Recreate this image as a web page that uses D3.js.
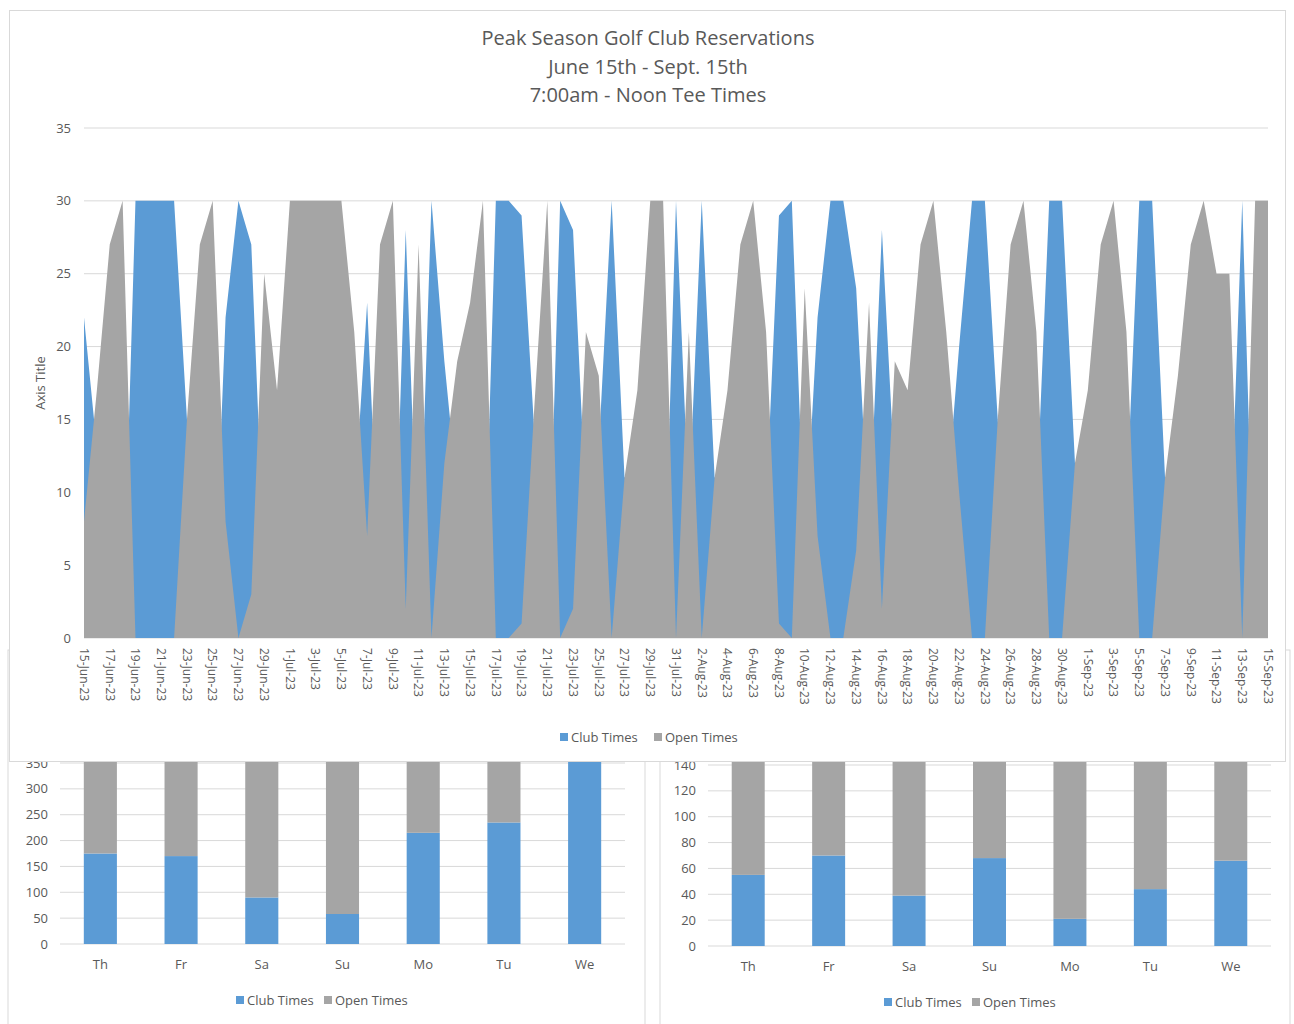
<!DOCTYPE html>
<html>
<head>
<meta charset="utf-8">
<script src="https://cdn.jsdelivr.net/npm/d3@7"></script>
<style>
  body { margin: 0; background: #fff; }
  text { font-family: "Open Sans", "Noto Sans", sans-serif; fill: #595959; }
</style>
</head>
<body>
<svg id="chart" width="1294" height="1024"></svg>
<script>
// Daily tee times, 15-Jun-23 .. 15-Sep-23
var startDate = new Date(2023, 5, 15);
var endDate = new Date(2023, 8, 15);

var clubTimes = [22, 13, 3, 0, 30, 30, 30, 30, 15, 3, 0, 22, 30, 27, 5, 13, 0, 0, 0, 0,
  0, 9, 23, 3, 0, 28, 3, 30, 19, 10, 7, 0, 30, 30, 29, 14, 0, 30, 28, 9,
  13, 30, 11, 13, 0, 0, 30, 9, 30, 11, 13, 3, 0, 9, 29, 30, 6, 22, 30, 30,
  24, 7, 28, 11, 13, 3, 0, 9, 20, 30, 30, 15, 3, 0, 9, 30, 30, 12, 13, 3,
  0, 9, 30, 30, 11, 12, 3, 0, 5, 5, 30, 0, 0];

var openTimes = [8, 17, 27, 30, 0, 0, 0, 0, 15, 27, 30, 8, 0, 3, 25, 17, 30, 30, 30, 30,
  30, 21, 7, 27, 30, 2, 27, 0, 12, 19, 23, 30, 0, 0, 1, 16, 30, 0, 2, 21,
  18, 0, 11, 17, 30, 30, 0, 21, 0, 11, 17, 27, 30, 21, 1, 0, 24, 7, 0, 0,
  6, 23, 2, 19, 17, 27, 30, 21, 10, 0, 0, 15, 27, 30, 21, 0, 0, 12, 17, 27,
  30, 21, 0, 0, 11, 18, 27, 30, 25, 25, 0, 30, 30];

var yTicks = [0, 5, 10, 15, 20, 25, 30, 35];
var titleLines = ["Peak Season Golf Club Reservations", "June 15th - Sept. 15th", "7:00am - Noon Tee Times"];

// Weekday summaries (two charts partly hidden behind the main one)
var weekdays = ["Th", "Fr", "Sa", "Su", "Mo", "Tu", "We"];
var seasonClub = [175, 170, 90, 58, 215, 235, 370];
var seasonOpen = [245, 220, 300, 332, 175, 155, 20];
var seasonTicks = [0, 50, 100, 150, 200, 250, 300, 350];
var monthClub = [55, 70, 39, 68, 21, 44, 66];
var monthOpen = [95, 80, 111, 82, 129, 106, 84];
var monthTicks = [0, 20, 40, 60, 80, 100, 120, 140];

var seriesNames = ["Club Times", "Open Times"];
var blue = "#5b9bd5";
var gray = "#a5a5a5";
var gridColor = "#d9d9d9";

var svg = d3.select("#chart");
var dates = d3.timeDay.range(startDate, d3.timeDay.offset(endDate, 1));

// ---------- bottom bar charts ----------
function drawWeekChart(opts) {
  var g = svg.append("g");

  // frame
  g.append("rect")
    .attr("x", opts.frame[0]).attr("y", 650)
    .attr("width", opts.frame[1] - opts.frame[0]).attr("height", 400)
    .attr("fill", "#fff").attr("stroke", gridColor);

  var x = d3.scaleBand().domain(weekdays).range(opts.xRange).paddingInner(0.59).paddingOuter(0.295);
  var y = d3.scaleLinear().domain([0, opts.ticks[opts.ticks.length - 1]]).range(opts.yRange);

  g.selectAll(".grid").data(opts.ticks).enter().append("line")
    .attr("x1", opts.xRange[0]).attr("x2", opts.xRange[1])
    .attr("y1", function (d) { return y(d); }).attr("y2", function (d) { return y(d); })
    .attr("stroke", gridColor);

  g.selectAll(".ytick").data(opts.ticks).enter().append("text")
    .attr("x", opts.xRange[0] - 12)
    .attr("y", function (d) { return y(d); })
    .attr("dy", "0.35em")
    .attr("text-anchor", "end")
    .style("font-size", "13px")
    .text(function (d) { return d; });

  // club bars at the bottom, open stacked on top
  g.selectAll(".club").data(weekdays).enter().append("rect")
    .attr("x", function (d) { return x(d); })
    .attr("width", x.bandwidth())
    .attr("y", function (d, i) { return y(opts.club[i]); })
    .attr("height", function (d, i) { return y(0) - y(opts.club[i]); })
    .attr("fill", blue);

  g.selectAll(".open").data(weekdays).enter().append("rect")
    .attr("x", function (d) { return x(d); })
    .attr("width", x.bandwidth())
    .attr("y", function (d, i) { return y(opts.club[i] + opts.open[i]); })
    .attr("height", function (d, i) { return y(opts.club[i]) - y(opts.club[i] + opts.open[i]); })
    .attr("fill", gray);

  g.selectAll(".xlab").data(weekdays).enter().append("text")
    .attr("x", function (d) { return x(d) + x.bandwidth() / 2; })
    .attr("y", opts.yRange[0] + 25)
    .attr("text-anchor", "middle")
    .style("font-size", "13px")
    .text(function (d) { return d; });

  drawLegend(g, opts.legendX, opts.yRange[0] + 56, 88);
}

function drawLegend(g, x0, yc, gap) {
  var item = g.selectAll(".leg-" + x0).data(seriesNames).enter().append("g")
    .attr("transform", function (d, i) { return "translate(" + (x0 + i * gap) + "," + yc + ")"; });
  item.append("rect")
    .attr("x", 0).attr("y", -4).attr("width", 8).attr("height", 8)
    .attr("fill", function (d, i) { return i == 0 ? blue : gray; });
  item.append("text")
    .attr("x", 11).attr("dy", "0.35em")
    .style("font-size", "13px")
    .text(function (d) { return d; });
}

drawWeekChart({ frame: [8, 645], xRange: [60, 625], yRange: [944, 763], ticks: seasonTicks,
  club: seasonClub, open: seasonOpen, legendX: 236 });
drawWeekChart({ frame: [660, 1290], xRange: [708, 1271], yRange: [946, 765], ticks: monthTicks,
  club: monthClub, open: monthOpen, legendX: 884 });

// ---------- main area chart ----------
var main = svg.append("g");
main.append("rect")
  .attr("x", 9.5).attr("y", 10.5).attr("width", 1276).attr("height", 751)
  .attr("fill", "#fff").attr("stroke", gridColor);

var x = d3.scaleTime().domain([startDate, endDate]).range([84, 1268]);
var y = d3.scaleLinear().domain([0, 35]).range([638, 128]);

main.selectAll(".grid").data(yTicks).enter().append("line")
  .attr("x1", 84).attr("x2", 1268)
  .attr("y1", function (d) { return y(d); }).attr("y2", function (d) { return y(d); })
  .attr("stroke", gridColor);

main.selectAll(".ytick").data(yTicks).enter().append("text")
  .attr("x", 71)
  .attr("y", function (d) { return y(d); })
  .attr("dy", "0.35em")
  .attr("text-anchor", "end")
  .style("font-size", "13px")
  .text(function (d) { return d; });

// two plain (not stacked) areas, open times drawn in front
function areaFor(values) {
  return d3.area()
    .x(function (d, i) { return x(dates[i]); })
    .y0(y(0))
    .y1(function (d) { return y(d); })(values);
}

main.append("path").attr("d", areaFor(clubTimes)).attr("fill", blue);
main.append("path").attr("d", areaFor(openTimes)).attr("fill", gray);

// x axis labels, every second day, rotated
var fmt = d3.timeFormat("%-d-%b-%y");
var labelDates = dates.filter(function (d, i) { return i % 2 == 0; });
main.selectAll(".xlab").data(labelDates).enter().append("text")
  .attr("transform", function (d) { return "translate(" + x(d) + ",648) rotate(90)"; })
  .attr("dy", "0.35em")
  .style("font-size", "12px")
  .text(function (d) { return fmt(d); });

main.append("text")
  .attr("transform", "translate(45,383) rotate(-90)")
  .attr("text-anchor", "middle")
  .style("font-size", "13px")
  .text("Axis Title");

main.selectAll(".title").data(titleLines).enter().append("text")
  .attr("x", 648)
  .attr("y", function (d, i) { return 45 + i * 28.5; })
  .attr("text-anchor", "middle")
  .style("font-size", "20px")
  .text(function (d) { return d; });

drawLegend(main, 560, 737, 94);
</script>
</body>
</html>
